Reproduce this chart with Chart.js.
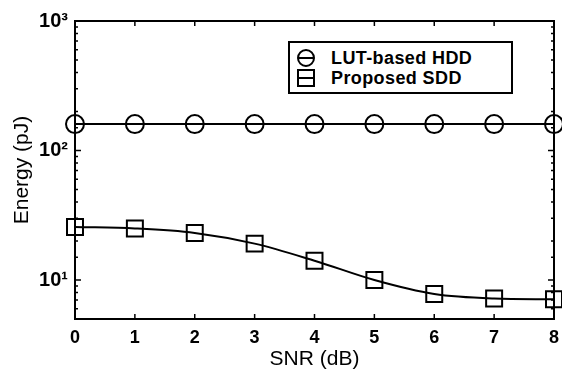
<!DOCTYPE HTML>
<html>
<head>
  <title>Energy vs SNR</title>
  <script src="https://cdn.jsdelivr.net/npm/chart.js"></script>
  <style>
    body { margin: 0; background: white; }
    .wrap { position: relative; width: 562px; height: 376px; }
    .legend {
      position: absolute; left: 288px; top: 41px; width: 221px; height: 49px;
      border: 2px solid black; background: white;
      font: bold 18px "Liberation Sans", Arial, sans-serif; color: black; letter-spacing: 0.4px;
    }
    .row { position: absolute; left: 0; height: 20px; line-height: 20px; white-space: nowrap; }
    .row span.txt { position: absolute; left: 41px; top: 0; }
    .sym { position: absolute; left: 7px; top: 1px; width: 14px; height: 14px; border: 2px solid black; box-sizing: content-box; }
    .sym.circle { border-radius: 50%; }
    .sym::after { content: ""; position: absolute; left: 0; right: 0; top: 6px; height: 2px; background: black; }
  </style>
</head>
<body>
  <div class="wrap">
    <canvas id="energyChart"></canvas>
    <div class="legend">
      <div class="row" style="top:5px"><div class="sym circle"></div><span class="txt">LUT-based HDD</span></div>
      <div class="row" style="top:25px"><div class="sym"></div><span class="txt">Proposed SDD</span></div>
    </div>
  </div>

  <script type="text/javascript">
    // SNR (dB) on x
    var xvarsnr = [0, 1, 2, 3, 4, 5, 6, 7, 8];
    // energy (pJ)
    var yvarhdd = [160, 160, 160, 160, 160, 160, 160, 160, 160];
    var yvarsdd = [25.7, 25.0, 23.1, 19.1, 14.1, 10.0, 7.8, 7.2, 7.1];
    var ylabels = { 10: '10\u00B9', 100: '10\u00B2', 1000: '10\u00B3' };

    const ctx = document.getElementById('energyChart');
    var tickFont = { family: 'Liberation Sans, Arial, sans-serif', size: 18, weight: 'bold' };
    var ytickFont = { family: 'Liberation Sans, Arial, sans-serif', size: 20, weight: 'bold' };
    var titleFont = { family: 'Liberation Sans, Arial, sans-serif', size: 21 };

    // box around plot + inward tick marks, matlab style
    const boxTicks = {
      id: 'boxTicks',
      afterDraw(chart) {
        const c = chart.ctx, a = chart.chartArea;
        const xs = chart.scales.x, ys = chart.scales.y;
        c.save();
        c.strokeStyle = 'black';
        c.lineWidth = 1.5;
        xs.ticks.forEach(t => {
          const px = xs.getPixelForValue(t.value);
          c.beginPath();
          c.moveTo(px, a.bottom); c.lineTo(px, a.bottom - 5);
          c.moveTo(px, a.top); c.lineTo(px, a.top + 5);
          c.stroke();
        });
        ys.ticks.forEach(t => {
          const py = ys.getPixelForValue(t.value);
          const major = ylabels[t.value] !== undefined;
          const len = major ? 6 : 3;
          c.beginPath();
          c.moveTo(a.left, py); c.lineTo(a.left + len, py);
          c.moveTo(a.right, py); c.lineTo(a.right - len, py);
          c.stroke();
        });
        c.lineWidth = 2;
        c.strokeRect(a.left, a.top, a.right - a.left, a.bottom - a.top);
        c.restore();
      }
    };

    var chartEnergy = new Chart(ctx, {
      type: 'line',
      data: {
        datasets: [
          {
            label: 'LUT-based HDD',
            data: xvarsnr.map((x, i) => ({ x: x, y: yvarhdd[i] })),
            borderColor: 'black',
            borderWidth: 2,
            pointStyle: 'circle',
            pointRadius: 9,
            pointBorderWidth: 2,
            pointBorderColor: 'black',
            pointBackgroundColor: 'rgba(0,0,0,0)',
          },
          {
            label: 'Proposed SDD',
            data: xvarsnr.map((x, i) => ({ x: x, y: yvarsdd[i] })),
            borderColor: 'black',
            borderWidth: 2,
            cubicInterpolationMode: 'monotone',
            pointStyle: 'rect',
            pointRadius: 11.3,
            pointBorderWidth: 2,
            pointBorderColor: 'black',
            pointBackgroundColor: 'rgba(0,0,0,0)',
          },
        ],
      },
      options: {
        responsive: true,
        maintainAspectRatio: false,
        animation: false,
        clip: false,
        layout: { autoPadding: false, padding: { left: 0, right: 8, top: 21, bottom: 0 } },
        plugins: { legend: { display: false }, tooltip: { enabled: false } },
        scales: {
          x: {
            type: 'linear',
            min: 0, max: 8,
            grid: { display: false, drawTicks: false },
            border: { display: false },
            ticks: { stepSize: 1, color: 'black', font: tickFont, padding: 8, maxRotation: 0 },
            title: { display: true, text: 'SNR (dB)', color: 'black', padding: { top: 0 }, font: titleFont },
            afterFit(s) { s.height = 57; s.paddingLeft = 0; s.paddingRight = 0; }
          },
          y: {
            type: 'logarithmic',
            min: 5, max: 1000,
            grid: { display: false, drawTicks: false },
            border: { display: false },
            ticks: {
              color: 'black', font: ytickFont, padding: 7, autoSkip: false,
              callback: (v) => ylabels[v] || ''
            },
            title: { display: true, text: 'Energy (pJ)', color: 'black', padding: { top: 10, bottom: 4 }, font: titleFont },
            afterFit(s) { s.width = 75; s.paddingTop = 0; s.paddingBottom = 0; }
          },
        },
      },
      plugins: [boxTicks],
    });
  </script>
</body>
</html>
